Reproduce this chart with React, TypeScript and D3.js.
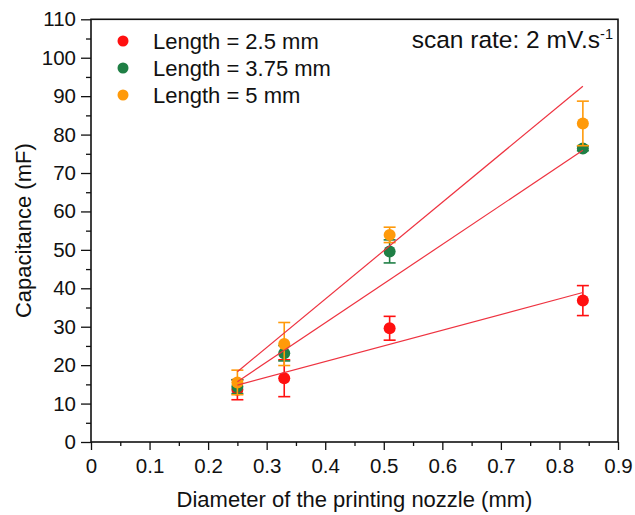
import React, { useEffect, useRef } from 'react';
import * as d3 from 'd3';

// nozzle diameters (mm)
const diameters = [0.25, 0.33, 0.51, 0.84];
const seriesNames = ['Length = 2.5 mm', 'Length = 3.75 mm', 'Length = 5 mm'];
const seriesColors = ['#ff1010', '#1f7f45', '#ff9a0a'];
// capacitance (mF)
const capRed = [13.6, 16.6, 29.6, 36.8];
const capGreen = [14.4, 23.1, 49.6, 76.4];
const capOrange = [15.5, 25.5, 53.9, 82.9];
// error bar half widths
const errRed = [2.6, 4.8, 3.1, 3.9];
const errGreen = [1.8, 2.0, 3.0, 0.6];
const errOrange = [3.2, 5.6, 2.0, 5.8];
// linear fit end points [x0, y0, x1, y1]
const fitLines = [
  [0.25, 14.8, 0.84, 38.9],
  [0.25, 15.7, 0.84, 75.9],
  [0.25, 18.3, 0.84, 92.6],
];
const xTicks = [0, 0.1, 0.2, 0.3, 0.4, 0.5, 0.6, 0.7, 0.8, 0.9];
const yTicks = [0, 10, 20, 30, 40, 50, 60, 70, 80, 90, 100, 110];

function App() {
  const ref = useRef<SVGSVGElement>(null);

  useEffect(() => {
    const width = 635;
    const height = 515;
    const left = 91, right = 618, top = 19.3, bottom = 442;
    const font = '"Liberation Sans", Arial, sans-serif';

    const svg = d3.select(ref.current);
    svg.selectAll('*').remove();
    svg.attr('width', width).attr('height', height);

    const xScale = d3.scaleLinear().domain([0, 0.9]).range([left, right]);
    const yScale = d3.scaleLinear().domain([0, 110]).range([bottom, top]);

    // minor ticks
    const xMinor = d3.range(0.05, 0.9, 0.1);
    const yMinor = d3.range(5, 110, 10);

    const xAxis = d3.axisBottom(xScale).tickValues(xTicks).tickSize(8).tickPadding(8)
      .tickFormat((d: any) => (d === 0 ? '0' : d3.format('.1f')(d)));
    const yAxis = d3.axisLeft(yScale).tickValues(yTicks).tickSize(10).tickPadding(5)
      .tickFormat(d3.format('d') as any);

    const gx = svg.append('g').attr('transform', 'translate(0,' + bottom + ')').call(xAxis);
    const gy = svg.append('g').attr('transform', 'translate(' + left + ',0)').call(yAxis);
    svg.append('g').attr('transform', 'translate(0,' + bottom + ')')
      .call(d3.axisBottom(xScale).tickValues(xMinor).tickSize(4).tickFormat(() => ''));
    svg.append('g').attr('transform', 'translate(' + left + ',0)')
      .call(d3.axisLeft(yScale).tickValues(yMinor).tickSize(5).tickFormat(() => ''));

    svg.selectAll('.domain').remove();
    svg.selectAll('.tick line').attr('stroke', '#111').attr('stroke-width', 1.3);
    [gx, gy].forEach((g) => {
      g.selectAll('text').attr('font-family', font).attr('font-size', 20.5).attr('fill', '#111');
    });

    // frame
    svg.append('rect')
      .attr('x', left).attr('y', top)
      .attr('width', right - left).attr('height', bottom - top)
      .attr('fill', 'none').attr('stroke', '#111').attr('stroke-width', 1.6);

    const caps = [capRed, capGreen, capOrange];
    const errs = [errRed, errGreen, errOrange];

    caps.forEach((vals, s) => {
      const g = svg.append('g');
      const color = seriesColors[s];
      vals.forEach((v, i) => {
        const cx = xScale(diameters[i]);
        const e = errs[s][i];
        g.append('line')
          .attr('x1', cx).attr('x2', cx)
          .attr('y1', yScale(v - e)).attr('y2', yScale(v + e))
          .attr('stroke', color).attr('stroke-width', 1.6);
        [v - e, v + e].forEach((c) => {
          g.append('line')
            .attr('x1', cx - 6).attr('x2', cx + 6)
            .attr('y1', yScale(c)).attr('y2', yScale(c))
            .attr('stroke', color).attr('stroke-width', 1.6);
        });
        g.append('circle')
          .attr('cx', cx).attr('cy', yScale(v))
          .attr('r', 6).attr('fill', color);
      });
    });

    // fit lines
    svg.append('g').selectAll('line')
      .data(fitLines)
      .enter()
      .append('line')
      .attr('x1', (d) => xScale(d[0])).attr('y1', (d) => yScale(d[1]))
      .attr('x2', (d) => xScale(d[2])).attr('y2', (d) => yScale(d[3]))
      .attr('stroke', '#ee3340').attr('stroke-width', 1.2);

    // legend
    const legend = svg.append('g');
    seriesNames.forEach((name, i) => {
      legend.append('circle')
        .attr('cx', 123).attr('cy', 41 + i * 27)
        .attr('r', 5.5).attr('fill', seriesColors[i]);
      legend.append('text')
        .attr('x', 153).attr('y', 41 + i * 27).attr('dy', '0.36em')
        .attr('font-family', font).attr('font-size', 22).attr('fill', '#111')
        .text(name);
    });

    // annotation
    const ann = svg.append('text')
      .attr('x', 613).attr('y', 48)
      .attr('text-anchor', 'end')
      .attr('font-family', font).attr('font-size', 24.5).attr('fill', '#111');
    ann.append('tspan').text('scan rate: 2 mV.s');
    ann.append('tspan').attr('dy', -9).attr('font-size', 14.5).text('-1');

    // axis titles
    svg.append('text')
      .attr('x', (left + right) / 2).attr('y', 507)
      .attr('text-anchor', 'middle')
      .attr('font-family', font).attr('font-size', 22).attr('fill', '#111')
      .text('Diameter of the printing nozzle (mm)');
    svg.append('text')
      .attr('transform', 'translate(31,' + (top + bottom) / 2 + ') rotate(-90)')
      .attr('text-anchor', 'middle')
      .attr('font-family', font).attr('font-size', 22).attr('fill', '#111')
      .text('Capacitance (mF)');
  }, []);

  return (
    <div style={{ position: 'absolute', left: 0, top: 0 }}>
      <svg ref={ref} style={{ display: 'block', background: '#fff' }}></svg>
    </div>
  );
}

export default App;
